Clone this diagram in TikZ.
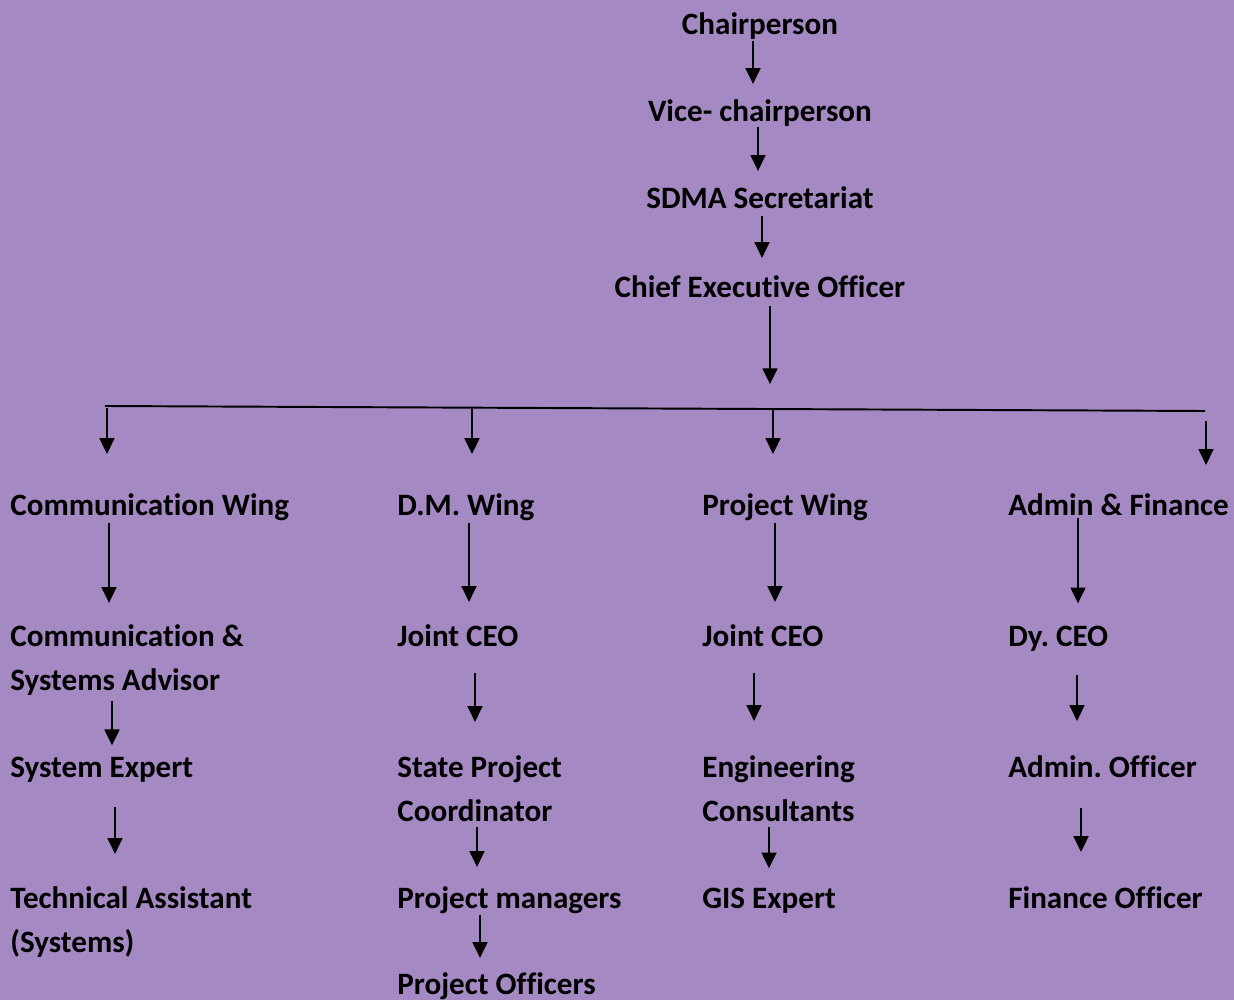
\documentclass[tikz,border=0pt]{standalone}
\usepackage{fontspec}
\setmainfont{Carlito}[Ligatures=NoCommon]
\usetikzlibrary{arrows.meta}
\definecolor{bgpurple}{RGB}{165,137,194}
\frenchspacing
\tikzset{post/.style={inner sep=0pt, font=\bfseries\fontsize{17.7}{24.5}\selectfont, align=left},
  arr/.style={draw, line width=1.1pt, -{Triangle[width=8.5pt,length=9pt]}}}

\begin{document}
\begin{tikzpicture}[x=0.02cm, y=-0.02cm]       % org chart, 1 unit = 1 px
    \fill[bgpurple] (0,0) rectangle (1234,1000);
    \useasboundingbox (0,0) rectangle (1234,1000);

    % top chain
    \node[post, anchor=base] at (760, 35)  (chair) {Chairperson};
    \node[post, anchor=base] at (760, 122) (vice)  {Vice- chairperson};
    \node[post, anchor=base] at (760, 209) (sdma)  {SDMA Secretariat};
    \node[post, anchor=base] at (760, 297) (ceo)   {Chief Executive Officer};

    % bar
    \coordinate (bl) at (105,406);
    \coordinate (br) at (1205,411);
    \draw[line width=1.1pt] (bl) -- (br);
    \coordinate (d1) at (107,408);
    \coordinate (d2) at (472,409);
    \coordinate (d3) at (773,410);
    \coordinate (d4) at (1206,411);
    \coordinate (dc) at (770,409);

    % wings
    \node[post, anchor=base west] at (10, 515)   (comm)  {Communication Wing};
    \node[post, anchor=base west] at (397, 515)  (dm)    {D.M. Wing};
    \node[post, anchor=base west] at (702, 515)  (proj)  {Project Wing};
    \node[post, anchor=base west] at (1008, 515) (admin) {Admin \& Finance};

    % column 1 (two-line nodes sit on their last line)
    \node[post, anchor=base west] at (10, 690) (csa)  {Communication \&\\Systems Advisor};
    \node[post, anchor=base west] at (10, 777) (sysx) {System Expert};
    \node[post, anchor=base west] at (10, 952) (tech) {Technical Assistant\\(Systems)};

    % column 2
    \node[post, anchor=base west] at (397, 646) (jceo1) {Joint CEO};
    \node[post, anchor=base west] at (397, 821) (spc)   {State Project\\Coordinator};
    \node[post, anchor=base west] at (397, 908) (pman)  {Project managers};
    \node[post, anchor=base west] at (397, 994) (poff)  {Project Officers};

    % column 3
    \node[post, anchor=base west] at (702, 646) (jceo2) {Joint CEO};
    \node[post, anchor=base west] at (702, 821) (eng)   {Engineering\\Consultants};
    \node[post, anchor=base west] at (702, 908) (gis)   {GIS Expert};

    % column 4
    \node[post, anchor=base west] at (1008, 646) (dyceo) {Dy. CEO};
    \node[post, anchor=base west] at (1008, 777) (aoff)  {Admin. Officer};
    \node[post, anchor=base west] at (1008, 908) (foff)  {Finance Officer};

    % arrows: from/to/x/gap at start/gap at end (px)
    \foreach \a/\b/\x/\s/\e in {chair/vice/753/1/16, vice/sdma/758/0/16, sdma/ceo/762/6/17,
        comm/csa/109/2/22, csa/sysx/112/6/11, sysx/tech/115/25/33,
        dm/jceo1/469/2/22, jceo1/spc/475/27/34, spc/pman/477/5/19, pman/poff/480/1/14,
        proj/jceo2/775/2/22, jceo2/eng/754/27/35, eng/gis/769/5/19,
        admin/dyceo/1078/2/22, dyceo/aoff/1077/24/34, aoff/foff/1081/31/34}
        \draw[arr, shorten <=\s*0.567pt, shorten >=\e*0.567pt] (\a.south -| \x,0) -- (\b.north -| \x,0);

    \draw[arr, shorten <=8*0.567pt, shorten >=25*0.567pt] (ceo.south -| dc) -- (dc);
    \draw[arr, shorten >=39*0.567pt] (d1) -- (comm.north -| d1);
    \draw[arr, shorten >=39*0.567pt] (d2) -- (dm.north -| d2);
    \draw[arr, shorten >=39*0.567pt] (d3) -- (proj.north -| d3);
    \draw[arr, shorten <=10*0.567pt, shorten >=28*0.567pt] (d4) -- (admin.north -| d4);
\end{tikzpicture}
\end{document}
